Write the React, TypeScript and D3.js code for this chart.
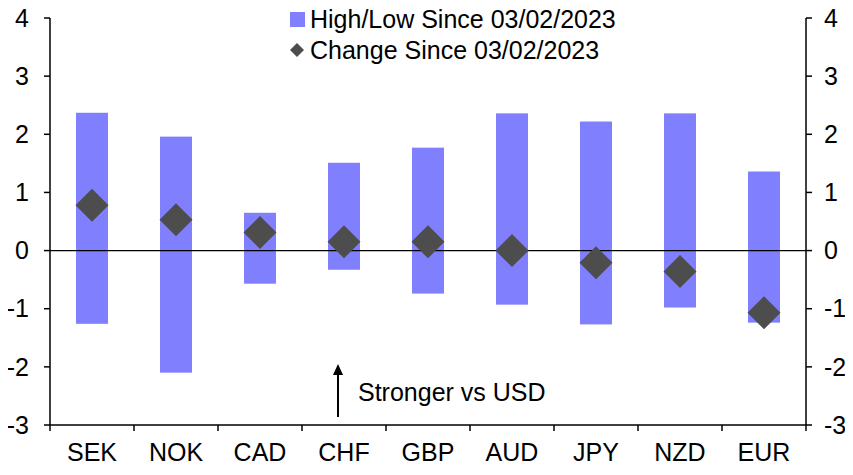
import React from "react";
import * as d3 from "d3";

const categories = ["SEK", "NOK", "CAD", "CHF", "GBP", "AUD", "JPY", "NZD", "EUR"];
const highValues = [2.37, 1.96, 0.65, 1.51, 1.77, 2.36, 2.22, 2.36, 1.36];
const lowValues = [-1.26, -2.1, -0.57, -0.33, -0.74, -0.93, -1.27, -0.98, -1.24];
const changeValues = [0.78, 0.53, 0.31, 0.15, 0.15, 0.0, -0.21, -0.36, -1.07];
const yTicks = [4, 3, 2, 1, 0, -1, -2, -3];

const W = 853, H = 475;
const left = 50, right = 806, top = 18, bottom = 425;
const font = "'Liberation Sans', Arial, sans-serif";
const fs = 25;

export default function App() {
  const x = d3.scaleBand<string>().domain(categories).range([left, right]).paddingInner(0).paddingOuter(0);
  const y = d3.scaleLinear().domain([-3, 4]).range([bottom, top]);
  const barW = 32;
  const d = 16.5;
  const boundaries = [...categories.map((c) => x(c)!), right];
  return (
    <div style={{ margin: -8 }}>
      <svg width={W} height={H} style={{ display: "block", fontFamily: font }}>
        <rect width={W} height={H} fill="#fff" />
        {categories.map((c, i) => (
          <rect key={c} x={x(c)! + x.bandwidth() / 2 - barW / 2} y={y(highValues[i])} width={barW}
            height={y(lowValues[i]) - y(highValues[i])} fill="#8080ff" />
        ))}
        <line x1={left} x2={right} y1={y(0)} y2={y(0)} stroke="#000" strokeWidth={1.3} />
        {categories.map((c, i) => {
          const cx = x(c)! + x.bandwidth() / 2, cy = y(changeValues[i]);
          return <path key={c} d={`M${cx},${cy - d}L${cx + d},${cy}L${cx},${cy + d}L${cx - d},${cy}Z`} fill="#4d4d4d" />;
        })}
        {/* axes */}
        <line x1={left} x2={left} y1={top} y2={bottom} stroke="#000" strokeWidth={1.5} />
        <line x1={right} x2={right} y1={top} y2={bottom} stroke="#000" strokeWidth={1.5} />
        <line x1={left} x2={right} y1={bottom} y2={bottom} stroke="#000" strokeWidth={1.5} />
        {yTicks.map((t) => (
          <g key={t}>
            <line x1={left - 6} x2={left} y1={y(t)} y2={y(t)} stroke="#000" strokeWidth={1.5} />
            <line x1={right} x2={right + 6} y1={y(t)} y2={y(t)} stroke="#000" strokeWidth={1.5} />
            <text x={29} y={y(t)} dy="0.35em" textAnchor="end" fontSize={fs}>{t}</text>
            <text x={824} y={y(t)} dy="0.35em" textAnchor="start" fontSize={fs}>{t}</text>
          </g>
        ))}
        {boundaries.map((b, i) => (
          <line key={i} x1={b} x2={b} y1={bottom} y2={bottom + 6} stroke="#000" strokeWidth={1.5} />
        ))}
        {categories.map((c) => (
          <text key={c} x={x(c)! + x.bandwidth() / 2} y={461} textAnchor="middle" fontSize={fs}>{c}</text>
        ))}
        {/* annotation */}
        <line x1={338} x2={338} y1={417} y2={372} stroke="#000" strokeWidth={2} />
        <path d="M338,364L333,375L343,375Z" fill="#000" />
        <text x={358} y={401} fontSize={fs}>Stronger vs USD</text>
        {/* legend */}
        <rect x={290} y={12} width={15} height={15} fill="#8080ff" />
        <text x={310} y={28} fontSize={fs}>High/Low Since 03/02/2023</text>
        <path d="M297,43L304,50L297,57L290,50Z" fill="#4d4d4d" />
        <text x={310} y={59} fontSize={fs}>Change Since 03/02/2023</text>
      </svg>
    </div>
  );
}
